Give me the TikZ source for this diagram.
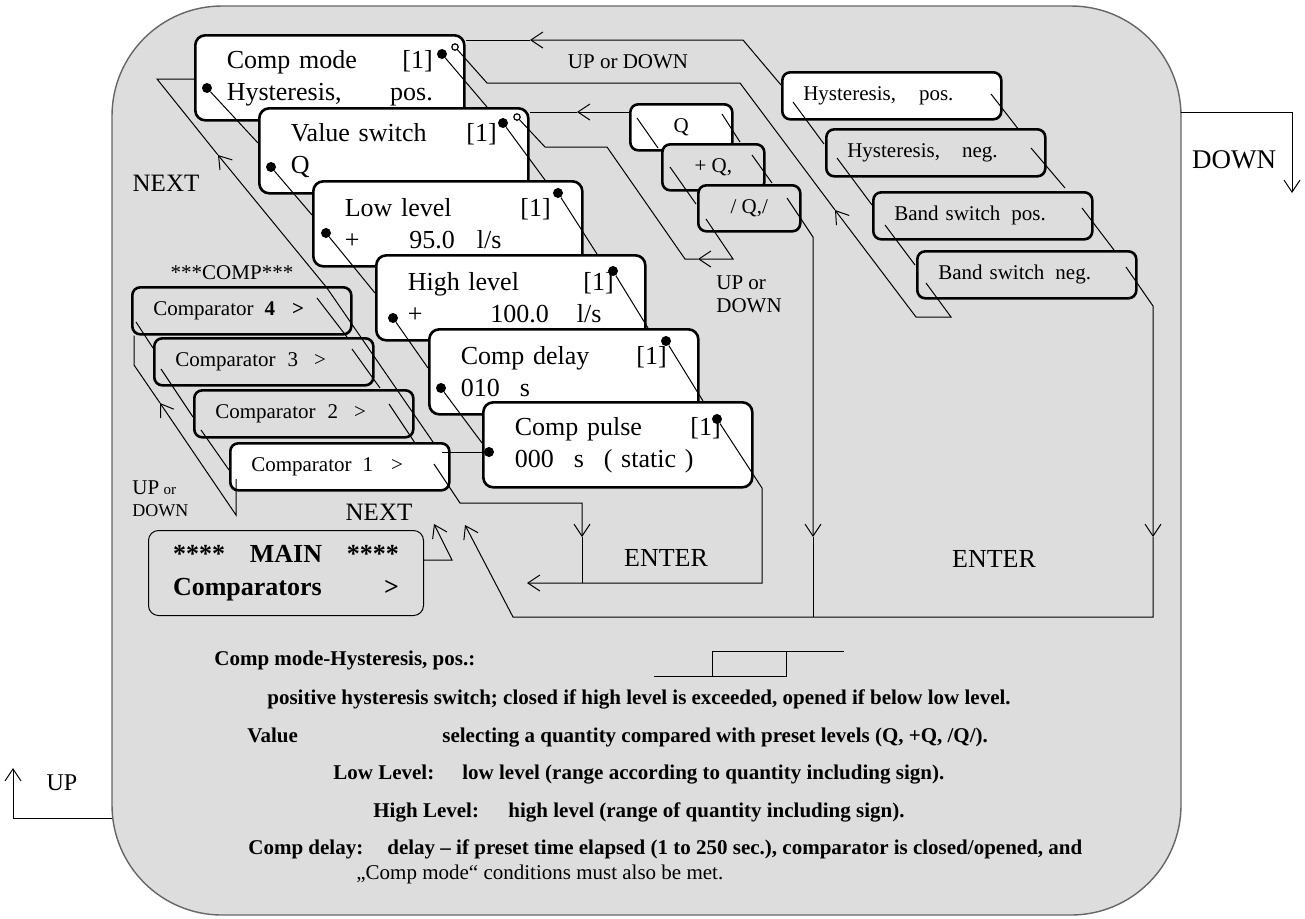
\documentclass[tikz,border=0pt]{standalone}
\usepackage{fontspec}
\setmainfont{Liberation Serif}
\usetikzlibrary{arrows.meta,positioning,calc}
\definecolor{panel}{RGB}{221,221,221}

\begin{document}
\begin{tikzpicture}[x=0.5pt, y=-0.5pt,
  every node/.style={inner sep=0pt},
  wire/.style={line width=0.5pt},
  arr/.style={-{Straight Barb[length=6pt,width=8pt]}},
  parambox/.style={draw, line width=1.3pt, rounded corners=5pt, fill=white, anchor=north west,
    minimum width=134.5pt, minimum height=42.5pt, text width=103pt, align=left,
    font=\fontsize{13}{16}\selectfont},
  qbox/.style={draw, line width=1.3pt, rounded corners=4pt, fill=panel, anchor=north west,
    minimum width=51pt, minimum height=23pt, font=\fontsize{10.5}{12}\selectfont},
  listbox/.style={draw, line width=1.3pt, rounded corners=4pt, fill=panel, anchor=north west,
    minimum width=109.5pt, minimum height=23.5pt, text width=88.5pt, align=left,
    font=\fontsize{10.5}{12}\selectfont},
  mainbox/.style={draw, line width=0.5pt, rounded corners=5pt, fill=panel, anchor=north west,
    minimum width=137.5pt, minimum height=42.5pt, text width=113pt, align=left,
    font=\bfseries\fontsize{13}{16.5}\selectfont},
  blob/.style={circle, fill, minimum size=5pt},
  ringdot/.style={circle, draw, line width=0.6pt, fill=white, minimum size=3.2pt},
  lbl/.style={font=\fontsize{12.5}{14}\selectfont},
  smalllbl/.style={font=\fontsize{10.5}{11.5}\selectfont},
  note/.style={anchor=base west, font=\bfseries\fontsize{10.5}{12}\selectfont}
]
\useasboundingbox (0,0) rectangle (1305,918);

% outer panel
\draw[line width=0.7pt, draw=black!60, fill=panel, rounded corners=55pt] (112,6) rectangle (1181,915);

% DOWN / UP
\coordinate (dn0) at (1181,112);
\coordinate (dn1) at (1292,112);
\coordinate (dn2) at (1292,193);
\draw[wire, arr] (dn0) -- (dn1) -- (dn2);
\node[lbl, font=\fontsize{13.5}{15}\selectfont] (downlbl) at (1234,160) {DOWN};
\coordinate (up0) at (112,818);
\coordinate (up1) at (13,818);
\coordinate (up2) at (13,768);
\draw[wire, arr] (up0) -- (up1) -- (up2);
\node[lbl, font=\fontsize{12}{14}\selectfont] (uplbl) at (62,783) {UP};

% parameter stack
\node[parambox] (cmode) at (194,34) {Comp mode\hfill[1]\\Hysteresis,\hfill pos.};
\node[blob] (cmodeL) at (207,88) {};
\node[blob] (cmodeR) at (442,54) {};
\node[ringdot] (cmodeO) at (455,47) {};
\draw[wire] (cmodeL) -- ++(51,55);
\draw[wire] (cmodeR) -- ++(45,53);

\node[parambox] (vswitch) at (258,107) {Value switch\hfill[1]\\Q};
\node[blob] (vswL) at (271,167) {};
\node[blob] (vswR) at (503,123) {};
\node[ringdot] (vswO) at (517,117) {};
\draw[wire] (vswL) -- ++(41,48);
\draw[wire] (vswR) -- ++(42,57);

\node[parambox] (lowlvl) at (312,180) {Low level\hfill[1]\\+\hspace{25pt}95.0\hspace{11pt}l/s};
\node[blob] (lowL) at (326,233) {};
\node[blob] (lowR) at (558,193) {};
\draw[wire] (lowL) -- ++(49,60);
\draw[wire] (lowR) -- ++(39,61);

\node[parambox] (highlvl) at (375,254) {High level\hfill[1]\\+\hspace{34pt}100.0\hspace{14pt}l/s};
\node[blob] (highL) at (393,318) {};
\node[blob] (highR) at (613,271) {};
\draw[wire] (highL) -- ++(35,50);
\draw[wire] (highR) -- ++(35,57);

\node[parambox] (cdelay) at (428,328) {Comp delay\hfill[1]\\010\hspace{10pt}s};
\node[blob] (delL) at (441,388) {};
\node[blob] (delR) at (666,341) {};
\draw[wire] (delL) -- ++(41,55);
\draw[wire] (delR) -- ++(37,60);

\node[parambox] (cpulse) at (482,401) {Comp pulse\hfill[1]\\000\hspace{10pt}s\hspace{10pt}( static )};
\node[blob] (pulL) at (489,452) {};
\node[blob] (pulR) at (717,419) {};

% value choice
\node[qbox, fill=white] (qq) at (629,103) {Q};
\draw[wire] (qq.north west) ++(8,15) -- ++(21,30);
\draw[wire] (qq.north west) ++(93,11) -- ++(18,28);
\node[qbox] (qplus) at (661,143) {+ Q,};
\draw[wire] (qplus.north west) ++(9,24) -- ++(26,37);
\draw[wire] (qplus.north west) ++(91,12) -- ++(20,28);
\node[qbox] (qabs) at (697,184) {/ Q,/};

% mode choice
\node[listbox, fill=white] (hyspos) at (781,71) {Hysteresis,\hspace{11.5pt}pos.};
\draw[wire] (hyspos.north west) ++(12,31) -- ++(31,42);
\draw[wire] (hyspos.north west) ++(210,23) -- ++(28,36);
\node[listbox] (hysneg) at (825,128) {Hysteresis,\hspace{11pt}neg.};
\draw[wire] (hysneg.north west) ++(12,30) -- ++(35,47);
\draw[wire] (hysneg.north west) ++(206,20) -- ++(34,40);
\node[listbox] (bandpos) at (872,191) {Band switch\hspace{5.5pt}pos.};
\draw[wire] (bandpos.north west) ++(13,34) -- ++(30,40);
\draw[wire] (bandpos.north west) ++(210,17) -- ++(32,42);
\node[listbox] (bandneg) at (916,250) {Band switch\hspace{5.5pt}neg.};

% comparators
\node[listbox] (comp4) at (131,286) {Comparator\hspace{5.5pt}\textbf{4}\hspace{8.5pt}\textbf{>}};
\draw[wire] (comp4.north west) ++(5,36) -- ++(17,26);
\draw[wire] (comp4.north west) ++(186,12) -- ++(30,39);
\node[listbox] (comp3) at (153,337) {Comparator\hspace{6pt}3\hspace{8pt}>};
\draw[wire] (comp3.north west) ++(8,32) -- ++(32,48);
\draw[wire] (comp3.north west) ++(199,12) -- ++(28,39);
\node[listbox] (comp2) at (193,389) {Comparator\hspace{6pt}2\hspace{8pt}>};
\draw[wire] (comp2.north west) ++(8,41) -- ++(28,40);
\draw[wire] (comp2.north west) ++(196,15) -- ++(26,39);
\node[listbox, fill=white] (comp1) at (229,442) {Comparator\hspace{5.5pt}1\hspace{9pt}>};
\node[lbl, font=\fontsize{10.5}{12}\selectfont] (comptitle) at (232,273) {***COMP***};

% main menu
\node[mainbox] (mainmenu) at (148,530) {****\hfill MAIN\hfill ****\\Comparators\hfill >};

% NEXT back to Comp mode
\coordinate (nx0) at (433,442);
\coordinate (nx1) at (327,288);
\coordinate (nx2) at (218,155);
\coordinate (nx3) at (157,79);
\draw[wire, arr] (nx0) -- (nx1) -- (nx2);
\draw[wire] (nx2) -- (nx3) -- (nx3 -| cmode.west);
\node[lbl] (nexttop) at (166,183) {NEXT};

% UP or DOWN among comparators
\coordinate (ud0) at (236,479);
\coordinate (ud1) at (236,515);
\coordinate (ud2) at (160,403);
\coordinate (ud3) at (134,365);
\draw[wire, arr] (ud0) -- (ud1) -- (ud2);
\draw[wire] (ud2) -- (ud3) -- (ud3 |- comp4.south);
\node[anchor=west, align=left, font=\fontsize{9}{11}\selectfont] (udleft) at (132,499)
  {{\fontsize{10.5}{11}\selectfont UP} {\fontsize{7.5}{9}\selectfont or}\\DOWN};

% comparator 1 to Comp pulse
\draw[wire] (comp1.north west) ++(213,10) -- (pulL);

% ENTER from comparator 1
\coordinate (en0) at (434,464);
\coordinate (en1) at (460,503);
\coordinate (en2) at (582,503);
\coordinate (en3) at (582,537);
\coordinate (en4) at (582,583);
\draw[wire, arr] (en0) -- (en1) -- (en2) -- (en3);
\draw[wire] (en3) -- (en4);
\coordinate (pl1) at (762,488);
\coordinate (pl2) at (762,583);
\coordinate (pl3) at (527,583);
\draw[wire, arr] (pulR) -- (pl1) -- (pl2) -- (pl3);
\node[lbl, font=\fontsize{13}{15}\selectfont] (enterl) at (666,558) {ENTER};

% NEXT from main menu
\coordinate (mn1) at (452,560);
\coordinate (mn2) at (434,524);
\draw[wire, arr] (mainmenu.east |- mn1) -- (mn1) -- (mn2);
\node[lbl] (nextlow) at (379,512) {NEXT};

% UP or DOWN: Comp mode <-> mode list
\coordinate (t1) at (781,85);
\coordinate (t2) at (743,40);
\coordinate (t3) at (530,40);
\draw[wire, arr] (t1) -- (t2) -- (t3);
\draw[wire] (t3) -- (t3 -| cmode.east);
\node[smalllbl] (udtop) at (628,62) {UP or DOWN};
\coordinate (b0) at (926,283);
\coordinate (b1) at (951,317);
\coordinate (b2) at (916,317);
\coordinate (b3) at (835,210);
\coordinate (b4) at (740,83);
\coordinate (b5) at (487,83);
\draw[wire, arr] (b0) -- (b1) -- (b2) -- (b3);
\draw[wire] (b3) -- (b4) -- (b5) -- (cmodeO);

% UP or DOWN: Value switch <-> value list
\coordinate (q1) at (629,112);
\coordinate (q2) at (577,112);
\draw[wire, arr] (q1) -- (q2);
\draw[wire] (q2) -- (q2 -| vswitch.east);
\coordinate (a0) at (706,219);
\coordinate (a1) at (733,259);
\coordinate (a2) at (698,259);
\coordinate (a3) at (685,259);
\coordinate (a4) at (607,147);
\coordinate (a5) at (545,147);
\draw[wire, arr] (a0) -- (a1) -- (a2);
\draw[wire] (a2) -- (a3) -- (a4) -- (a5) -- (vswO);
\node[anchor=west, align=left, smalllbl] (udmid) at (716,294) {UP or\\DOWN};

% ENTER from the lists
\coordinate (r0) at (787,198);
\coordinate (r1) at (813,237);
\coordinate (r2) at (813,537);
\coordinate (r3) at (813,617);
\draw[wire, arr] (r0) -- (r1) -- (r2);
\draw[wire] (r2) -- (r3);
\coordinate (s0) at (1126,267);
\coordinate (s1) at (1153,306);
\coordinate (s2) at (1153,537);
\coordinate (s3) at (1153,617);
\coordinate (s4) at (513,617);
\coordinate (s5) at (465,525);
\draw[wire, arr] (s0) -- (s1) -- (s2);
\draw[wire, arr] (s2) -- (s3) -- (s4) -- (s5);
\node[lbl, font=\fontsize{13}{15}\selectfont] (enterr) at (994,559) {ENTER};

% explanations
\draw[wire] (654,676) -- (786,676) -- (786,651);
\draw[wire] (712,676) -- (712,651) -- (844,651);
\node[note] (n1) at (214,665) {Comp mode-Hysteresis, pos.:};
\node[note] (n2) at (267,704) {positive hysteresis switch; closed if high level is exceeded, opened if below low level.};
\node[note] (n3a) at (247,742) {Value};
\node[note] (n3b) at (442,742) {selecting a quantity compared with preset levels (Q, +Q, /Q/).};
\node[note] (n4a) at (333,779) {Low Level:};
\node[note] (n4b) at (462,779) {low level (range according to quantity including sign).};
\node[note] (n5a) at (373,817) {High Level:};
\node[note] (n5b) at (508,817) {high level (range of quantity including sign).};
\node[note] (n6a) at (248,854) {Comp delay:};
\node[note] (n6b) at (387,854) {delay – if preset time elapsed (1 to 250 sec.), comparator is closed/opened, and};
\node[note, font=\fontsize{10.5}{12}\selectfont] (n7) at (356,879) {„Comp mode“ conditions must also be met.};
\end{tikzpicture}
\end{document}
